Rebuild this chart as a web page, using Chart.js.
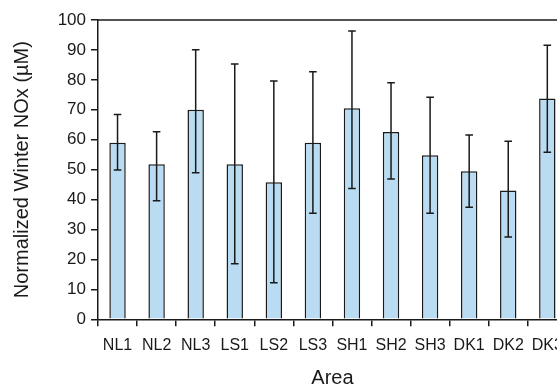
<!DOCTYPE html>
<html>
<head>
<meta charset="utf-8">
<script src="https://cdn.jsdelivr.net/npm/chart.js@4/dist/chart.umd.min.js"></script>
<style>
  html, body { margin: 0; padding: 0; background: #fff; overflow: hidden; }
  #wrap { width: 557px; height: 387px; overflow: hidden; }
</style>
</head>
<body>
<div id="wrap"><canvas id="c" width="573" height="387"></canvas></div>
<script>
// 区域
const areas = ["NL1", "NL2", "NL3", "LS1", "LS2", "LS3", "SH1", "SH2", "SH3", "DK1", "DK2", "DK3"];
// 平均值
const means = [59.0, 51.8, 70.0, 51.8, 45.8, 59.0, 70.5, 62.6, 54.8, 49.5, 43.0, 73.8];
// 误差线下限 / 上限
const errLow = [49.9, 39.6, 49.0, 18.6, 12.2, 35.4, 43.7, 46.9, 35.4, 37.4, 27.5, 55.8];
const errHigh = [68.4, 62.7, 90.1, 85.3, 79.6, 82.7, 96.3, 79.0, 74.2, 61.6, 59.5, 91.6];
// Y轴刻度
const yTicks = [0, 10, 20, 30, 40, 50, 60, 70, 80, 90, 100];

const FONT = "'Liberation Sans', Arial, Helvetica, sans-serif";
const INK = "#1a1a1a";

// 误差线 + 上边框
const errorBars = {
  id: "errorBars",
  afterDatasetsDraw(chart) {
    const { ctx, scales: { y }, chartArea } = chart;
    const meta = chart.getDatasetMeta(0);
    ctx.save();
    ctx.strokeStyle = INK;
    ctx.lineWidth = 1.5;
    meta.data.forEach((bar, i) => {
      const x = bar.x;
      const yl = y.getPixelForValue(errLow[i]);
      const yh = y.getPixelForValue(errHigh[i]);
      const cap = 3.8;
      ctx.beginPath();
      ctx.moveTo(x, yl);
      ctx.lineTo(x, yh);
      ctx.moveTo(x - cap, yh);
      ctx.lineTo(x + cap, yh);
      ctx.moveTo(x - cap, yl);
      ctx.lineTo(x + cap, yl);
      ctx.stroke();
    });
    // 图框
    ctx.beginPath();
    ctx.moveTo(chartArea.left, chartArea.top);
    ctx.lineTo(chartArea.right, chartArea.top);
    ctx.lineTo(chartArea.right, chartArea.bottom);
    ctx.stroke();
    ctx.restore();
  },
};

new Chart(document.getElementById("c"), {
  type: "bar",
  data: {
    labels: areas,
    datasets: [{
      data: means,
      backgroundColor: "#b9dcf3",
      borderColor: INK,
      borderWidth: 1.5,
      barPercentage: 0.42,
      categoryPercentage: 1,
    }],
  },
  options: {
    responsive: false,
    animation: false,
    events: [],
    layout: { padding: { top: 20, right: 3, left: 0, bottom: 0 } },
    plugins: { legend: { display: false }, tooltip: { enabled: false } },
    scales: {
      x: {
        offset: true,
        grid: { offset: true, drawOnChartArea: false, drawTicks: true, tickLength: 7, color: INK, lineWidth: 1.5 },
        border: { display: true, color: INK, width: 1.5 },
        ticks: { color: INK, font: { family: FONT, size: 16 }, padding: 10, maxRotation: 0, autoSkip: false },
        title: { display: true, text: "Area", color: INK, font: { family: FONT, size: 20, lineHeight: 0.9 }, padding: { top: 0, bottom: 0 } },
        afterFit(scale) { scale.height = 67.7; },
      },
      y: {
        min: 0,
        max: 100,
        afterBuildTicks(scale) { scale.ticks = yTicks.map((v) => ({ value: v })); },
        grid: { drawOnChartArea: false, drawTicks: true, tickLength: 7, color: INK, lineWidth: 1.5 },
        border: { display: true, color: INK, width: 1.5 },
        ticks: { color: INK, font: { family: FONT, size: 17 }, padding: 5 },
        title: { display: true, text: "Normalized Winter NOx (µM)", color: INK, font: { family: FONT, size: 20 }, padding: { top: 10, bottom: 0 } },
        afterFit(scale) { scale.width = 98; },
      },
    },
  },
  plugins: [errorBars],
});
</script>
</body>
</html>
